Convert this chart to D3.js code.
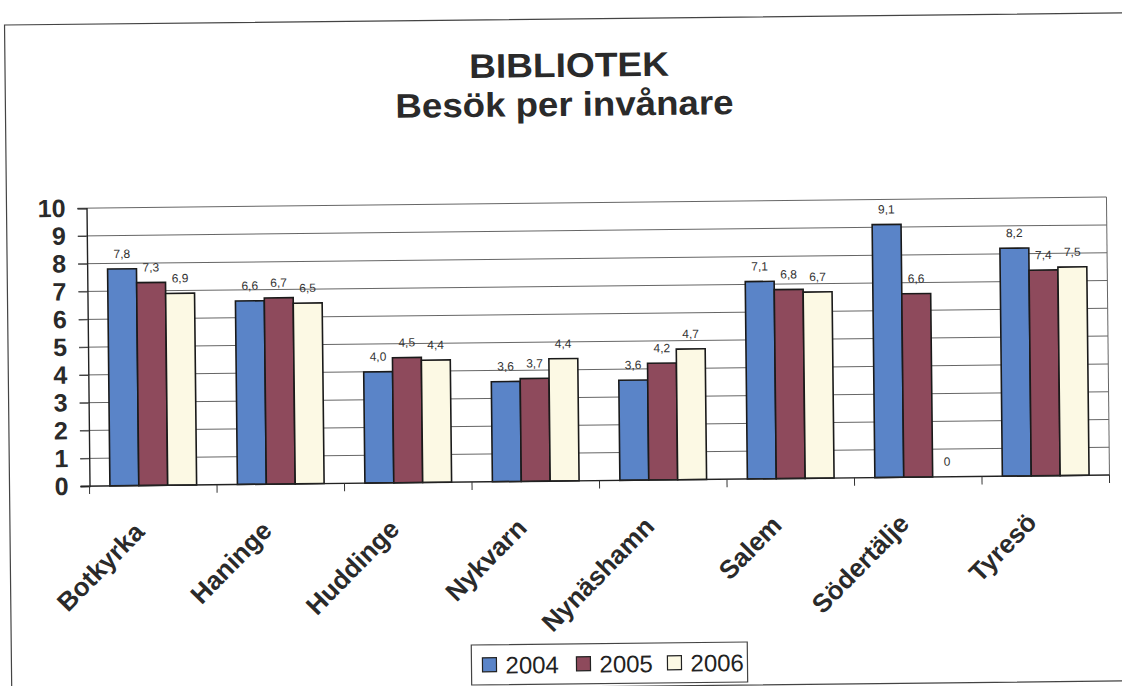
<!DOCTYPE html>
<html>
<head>
<meta charset="utf-8">
<script src="https://cdn.jsdelivr.net/npm/d3@7"></script>
<style>
  html, body { margin: 0; padding: 0; background: #fff; }
  svg { display: block; }
  text { font-family: Arial, "Liberation Sans", sans-serif; }
</style>
</head>
<body>
<div id="chart"></div>
<script>
// data
const categories = ['Botkyrka', 'Haninge', 'Huddinge', 'Nykvarn', 'Nynäshamn', 'Salem', 'Södertälje', 'Tyresö'];
const years = ['2004', '2005', '2006'];
const values2004 = [7.8, 6.6, 4.0, 3.6, 3.6, 7.1, 9.1, 8.2];
const values2005 = [7.3, 6.7, 4.5, 3.7, 4.2, 6.8, 6.6, 7.4];
const values2006 = [6.9, 6.5, 4.4, 4.4, 4.7, 6.7, 0, 7.5];
const yTicks = [0, 1, 2, 3, 4, 5, 6, 7, 8, 9, 10];
const colors = ['#5a84c8', '#8e4a5c', '#fcf9e4'];

const width = 1122, height = 686;
const plot = {left: 88, right: 1108, top: 203, bottom: 481};

const series = [values2004, values2005, values2006];
const rows = categories.map((c, i) => ({cat: c, vals: years.map((y, j) => ({year: y, v: series[j][i]}))}));

const svg = d3.select('#chart').append('svg')
    .attr('width', width)
    .attr('height', height);

// the scan is slightly tilted, rotate everything a bit
const root = svg.append('g')
    .attr('transform', `rotate(-0.62, ${width / 2}, ${height / 2})`);

// outer frame of the chart
root.append('rect')
    .attr('x', 8).attr('y', 19)
    .attr('width', 1140).attr('height', 668)
    .attr('fill', 'none')
    .attr('stroke', '#444')
    .attr('stroke-width', 1.2);

// titles (stretched a little, the scan is wider than normal Arial)
root.append('text')
    .attr('x', 572).attr('y', 77)
    .attr('text-anchor', 'middle')
    .attr('textLength', 200).attr('lengthAdjust', 'spacingAndGlyphs')
    .style('font-size', '34px').style('font-weight', 'bold')
    .attr('fill', '#2a2a2a')
    .text('BIBLIOTEK');
root.append('text')
    .attr('x', 567).attr('y', 116)
    .attr('text-anchor', 'middle')
    .attr('textLength', 338).attr('lengthAdjust', 'spacingAndGlyphs')
    .style('font-size', '34px').style('font-weight', 'bold')
    .attr('fill', '#2a2a2a')
    .text('Besök per invånare');

// scales
const x0 = d3.scaleBand()
    .domain(categories)
    .range([plot.left, plot.right])
    .paddingInner(0.32)
    .paddingOuter(0.16);
const x1 = d3.scaleBand()
    .domain(years)
    .range([0, x0.bandwidth()]);
const y = d3.scaleLinear()
    .domain([0, 10])
    .range([plot.bottom, plot.top]);
const color = d3.scaleOrdinal().domain(years).range(colors);

// gridlines
root.append('g')
    .selectAll('line')
    .data(yTicks.slice(1))
    .join('line')
    .attr('x1', plot.left - 9).attr('x2', plot.right)
    .attr('y1', d => y(d)).attr('y2', d => y(d))
    .attr('stroke', '#666')
    .attr('stroke-width', 1);

// right border of plot area
root.append('line')
    .attr('x1', plot.right).attr('x2', plot.right)
    .attr('y1', plot.top).attr('y2', plot.bottom)
    .attr('stroke', '#666');

// y axis
const yAxis = root.append('g')
    .attr('transform', `translate(${plot.left},0)`)
    .call(d3.axisLeft(y).tickValues(yTicks).tickSize(9).tickPadding(12));
yAxis.select('.domain').attr('stroke', '#222').attr('stroke-width', 1.4);
yAxis.selectAll('.tick line').attr('stroke', '#444');
yAxis.selectAll('.tick text')
    .style('font-size', '25px').style('font-weight', 'bold')
    .style('font-family', 'Arial, "Liberation Sans", sans-serif')
    .attr('fill', '#2a2a2a');

// bars
const groups = root.append('g')
    .selectAll('g.group')
    .data(rows)
    .join('g')
    .classed('group', true)
    .attr('transform', d => `translate(${x0(d.cat)},0)`);

groups.selectAll('rect')
    .data(d => d.vals)
    .join('rect')
    .attr('x', d => x1(d.year))
    .attr('y', d => y(d.v))
    .attr('width', x1.bandwidth())
    .attr('height', d => y(0) - y(d.v))
    .attr('fill', d => color(d.year))
    .attr('stroke', d => d.v > 0 ? '#1a1a1a' : 'none')
    .attr('stroke-width', 1.6);

// value labels
groups.selectAll('text')
    .data(d => d.vals)
    .join('text')
    .attr('x', d => x1(d.year) + x1.bandwidth() / 2)
    .attr('y', d => y(d.v) - 11)
    .attr('text-anchor', 'middle')
    .style('font-size', '12px')
    .attr('fill', '#333')
    .text(d => d3.format('.1f')(d.v).replace('.', ',').replace(/^0,0$/, '0'));

// x axis line and ticks between categories
const tickXs = d3.range(categories.length + 1).map(i => plot.left + i * (plot.right - plot.left) / categories.length);
root.append('line')
    .attr('x1', plot.left - 9).attr('x2', plot.right)
    .attr('y1', plot.bottom).attr('y2', plot.bottom)
    .attr('stroke', '#222').attr('stroke-width', 1.4);
root.append('g')
    .selectAll('line')
    .data(tickXs)
    .join('line')
    .attr('x1', d => d).attr('x2', d => d)
    .attr('y1', plot.bottom).attr('y2', plot.bottom + 8)
    .attr('stroke', '#333');

// category labels, rotated
root.append('g')
    .selectAll('text')
    .data(categories)
    .join('text')
    .attr('transform', d => `translate(${x0(d) + x0.bandwidth() / 2 - 8},${plot.bottom + 48}) rotate(-45)`)
    .attr('text-anchor', 'end')
    .style('font-size', '26px').style('font-weight', 'bold')
    .attr('fill', '#2a2a2a')
    .text(d => d);

// legend
const legend = root.append('g').attr('transform', 'translate(468,644)');
legend.append('rect')
    .attr('width', 276).attr('height', 40)
    .attr('fill', '#fff')
    .attr('stroke', '#444').attr('stroke-width', 1.2);
const legendX = [11, 105, 196];
const items = legend.selectAll('g.item')
    .data(years)
    .join('g')
    .classed('item', true)
    .attr('transform', (d, i) => `translate(${legendX[i]},0)`);
items.append('rect')
    .attr('y', 13).attr('width', 14).attr('height', 14)
    .attr('fill', d => color(d))
    .attr('stroke', '#222').attr('stroke-width', 1.2);
items.append('text')
    .attr('x', 23).attr('y', 29)
    .style('font-size', '24px')
    .attr('fill', '#222')
    .text(d => d);
</script>
</body>
</html>
